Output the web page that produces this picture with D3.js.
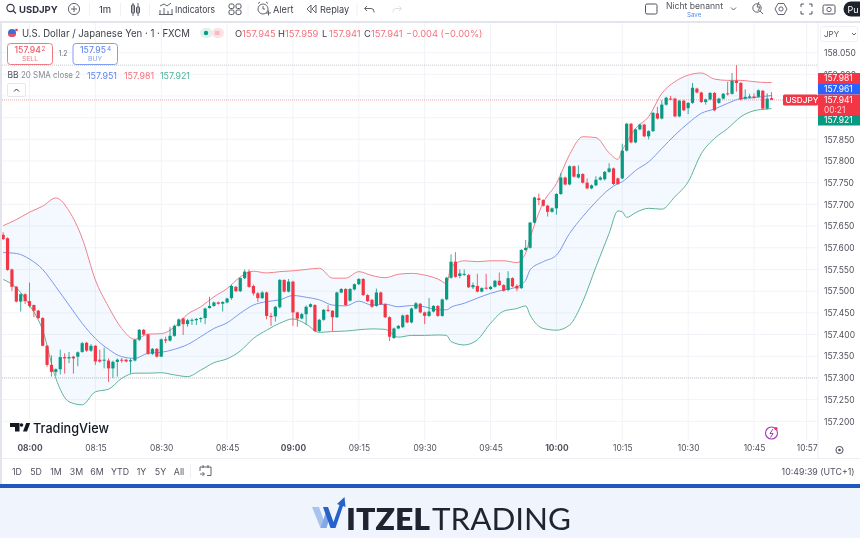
<!DOCTYPE html>
<html>
<head>
<meta charset="utf-8">
<script src="https://cdn.jsdelivr.net/npm/d3@7"></script>
<style>
  html, body { margin: 0; padding: 0; background: #fff; }
  svg { display: block; filter: blur(0.3px); }
  text { font-family: Inter, "Noto Sans", sans-serif; }
</style>
</head>
<body>
<script>
// minutes relative to 08:00, first candle is 07:54. ten candles per row
const firstMinute = -6;

const opens = [
157.630,157.622,157.550,157.510,157.476,157.493,157.477,157.468,157.455,157.438,
157.374,157.330,157.314,157.320,157.348,157.345,157.349,157.349,157.360,157.381,
157.363,157.374,157.342,157.340,157.340,157.322,157.337,157.342,157.342,157.338,
157.340,157.388,157.411,157.400,157.356,157.367,157.349,157.389,157.386,157.397,
157.420,157.437,157.424,157.432,157.433,157.436,157.438,157.461,157.466,157.474,
157.471,157.474,157.484,157.510,157.500,157.530,157.545,157.512,157.495,157.484,
157.497,157.443,157.442,157.463,157.526,157.499,157.522,157.451,157.437,157.447,
157.464,157.468,157.408,157.434,157.457,157.455,157.440,157.497,157.505,157.478,
157.504,157.516,157.528,157.491,157.480,157.466,157.497,157.470,157.440,157.392,
157.414,157.417,157.445,157.428,157.460,157.471,157.451,157.443,157.453,157.466,
157.443,157.481,157.531,157.568,157.535,157.538,157.537,157.509,157.512,157.499,
157.508,157.505,157.510,157.524,157.514,157.503,157.530,157.512,157.507,157.595,
157.600,157.658,157.714,157.710,157.697,157.683,157.691,157.724,157.762,157.746,
157.788,157.762,157.770,157.750,157.737,157.744,157.757,157.758,157.775,157.783,
157.760,157.760,157.824,157.886,157.843,157.873,157.884,157.857,157.869,157.910,
157.898,157.930,157.944,157.944,157.903,157.939,157.922,157.934,157.967,157.958,
157.936,157.942,157.957,157.934,157.944,157.956,157.955,157.985,157.980,157.944,
157.946,157.949,157.948,157.962,157.921,157.945];
const highs = [
157.636,157.624,157.552,157.512,157.495,157.495,157.520,157.469,157.457,157.440,
157.376,157.352,157.322,157.365,157.357,157.360,157.351,157.361,157.383,157.383,
157.378,157.376,157.365,157.370,157.345,157.340,157.345,157.346,157.344,157.345,
157.390,157.413,157.413,157.402,157.369,157.369,157.391,157.395,157.417,157.423,
157.437,157.439,157.436,157.437,157.438,157.440,157.462,157.487,157.476,157.476,
157.477,157.485,157.515,157.512,157.532,157.550,157.550,157.515,157.498,157.500,
157.499,157.450,157.466,157.528,157.527,157.528,157.524,157.453,157.450,157.467,
157.472,157.470,157.436,157.459,157.468,157.456,157.499,157.507,157.507,157.507,
157.518,157.530,157.530,157.493,157.482,157.506,157.499,157.472,157.442,157.416,
157.422,157.446,157.447,157.462,157.475,157.473,157.453,157.484,157.468,157.468,
157.483,157.533,157.585,157.590,157.550,157.550,157.540,157.520,157.540,157.509,
157.540,157.512,157.526,157.543,157.516,157.546,157.532,157.516,157.597,157.618,
157.660,157.718,157.725,157.712,157.699,157.693,157.726,157.772,157.764,157.790,
157.790,157.790,157.772,157.760,157.746,157.765,157.765,157.777,157.795,157.785,
157.762,157.840,157.888,157.888,157.875,157.886,157.886,157.871,157.913,157.925,
157.940,157.948,157.950,157.946,157.941,157.941,157.936,157.980,157.969,157.960,
157.944,157.959,157.959,157.946,157.957,157.983,158.003,158.021,157.982,157.965,
157.955,157.956,157.965,157.964,157.956,157.959];
const lows = [
157.618,157.547,157.500,157.474,157.453,157.470,157.462,157.440,157.436,157.373,
157.326,157.303,157.305,157.308,157.310,157.334,157.310,157.327,157.358,157.360,
157.360,157.330,157.335,157.322,157.291,157.300,157.303,157.335,157.336,157.310,
157.338,157.385,157.398,157.353,157.353,157.347,157.348,157.380,157.384,157.395,
157.418,157.399,157.418,157.422,157.422,157.428,157.424,157.460,157.464,157.469,
157.453,157.472,157.480,157.498,157.498,157.528,157.508,157.490,157.475,157.482,
157.435,157.420,157.430,157.460,157.497,157.497,157.420,157.418,157.435,157.423,
157.462,157.406,157.406,157.432,157.452,157.408,157.438,157.495,157.466,157.476,
157.502,157.514,157.489,157.475,157.462,157.464,157.468,157.438,157.385,157.390,
157.412,157.415,157.426,157.426,157.458,157.449,157.424,157.441,157.451,157.441,
157.441,157.479,157.529,157.531,157.530,157.535,157.507,157.505,157.497,157.497,
157.504,157.503,157.508,157.512,157.499,157.500,157.509,157.500,157.505,157.593,
157.598,157.656,157.698,157.695,157.672,157.681,157.676,157.722,157.744,157.744,
157.762,157.760,157.748,157.735,157.735,157.742,157.755,157.755,157.773,157.745,
157.745,157.758,157.822,157.841,157.841,157.871,157.855,157.850,157.867,157.896,
157.896,157.928,157.940,157.901,157.901,157.915,157.908,157.932,157.956,157.934,
157.930,157.940,157.915,157.932,157.942,157.951,157.953,157.960,157.940,157.942,
157.944,157.944,157.946,157.919,157.919,157.941];
const closes = [
157.620,157.549,157.510,157.476,157.493,157.477,157.466,157.455,157.438,157.374,
157.330,157.314,157.320,157.348,157.345,157.348,157.345,157.359,157.380,157.363,
157.374,157.338,157.338,157.342,157.322,157.337,157.342,157.340,157.338,157.341,
157.388,157.411,157.400,157.356,157.367,157.349,157.389,157.386,157.397,157.420,
157.435,157.424,157.433,157.434,157.436,157.438,157.460,157.466,157.474,157.471,
157.475,157.483,157.512,157.500,157.530,157.545,157.510,157.495,157.484,157.497,
157.443,157.442,157.464,157.526,157.499,157.522,157.451,157.437,157.447,157.464,
157.470,157.408,157.434,157.457,157.455,157.440,157.497,157.505,157.468,157.505,
157.516,157.528,157.491,157.477,157.464,157.497,157.470,157.440,157.395,157.414,
157.420,157.444,157.428,157.460,157.472,157.451,157.443,157.453,157.466,157.443,
157.481,157.531,157.568,157.533,157.541,157.540,157.509,157.514,157.499,157.507,
157.506,157.510,157.524,157.514,157.501,157.530,157.511,157.506,157.595,157.600,
157.658,157.716,157.710,157.697,157.683,157.691,157.724,157.762,157.746,157.788,
157.764,157.770,157.750,157.737,157.744,157.757,157.762,157.775,157.783,157.747,
157.747,157.824,157.886,157.843,157.873,157.884,157.857,157.869,157.911,157.898,
157.930,157.946,157.942,157.903,157.939,157.917,157.934,157.969,157.958,157.936,
157.942,157.957,157.917,157.944,157.955,157.955,157.985,157.980,157.942,157.948,
157.949,157.946,157.963,157.921,157.944,157.941];

// bollinger bands at these minutes
const bbMinutes = [-6,-3,0,3,6,9,12,15,18,21,24,27,30,33,36,39,42,45,48,51,54,57,60,63,66,69,72,75,78,81,84,87,90,93,95,96,99,102,105,108,111,113,114,117,120,123,126,129,132,134,135,136,138,141,144,147,150,153,156,159,162,165,168,169];
const bbUpper = [157.651,157.665,157.682,157.696,157.715,157.685,157.622,157.526,157.464,157.414,157.389,157.401,157.402,157.417,157.447,157.464,157.487,157.506,157.533,157.546,157.542,157.545,157.547,157.550,157.553,157.530,157.530,157.545,157.536,157.531,157.539,157.541,157.537,157.528,157.518,157.556,157.570,157.568,157.570,157.570,157.566,157.588,157.622,157.704,157.748,157.815,157.856,157.854,157.819,157.804,157.825,157.843,157.875,157.902,157.956,157.983,157.998,158.003,157.989,157.986,157.986,157.983,157.981,157.981];
const bbMiddle = [157.589,157.587,157.574,157.550,157.510,157.468,157.426,157.391,157.366,157.349,157.345,157.357,157.359,157.366,157.377,157.395,157.414,157.427,157.449,157.468,157.476,157.480,157.490,157.486,157.480,157.468,157.466,157.477,157.468,157.470,157.464,157.467,157.464,157.457,157.457,157.463,157.472,157.484,157.495,157.503,157.510,157.525,157.549,157.568,157.583,157.633,157.672,157.706,157.735,157.748,157.752,157.760,157.778,157.798,157.829,157.860,157.887,157.910,157.920,157.933,157.944,157.946,157.950,157.951];
const bbLower = [157.527,157.508,157.468,157.410,157.299,157.245,157.238,157.268,157.274,157.299,157.311,157.311,157.312,157.307,157.303,157.318,157.335,157.344,157.362,157.391,157.410,157.426,157.436,157.424,157.405,157.407,157.408,157.411,157.413,157.412,157.394,157.398,157.398,157.399,157.398,157.384,157.376,157.388,157.426,157.454,157.460,157.466,157.445,157.414,157.410,157.422,157.476,157.556,157.633,157.685,157.683,157.670,157.681,157.691,157.689,157.718,157.752,157.817,157.852,157.875,157.902,157.916,157.920,157.921];

// axes
const gridPrices = d3.range(0, 18).map(i => +(157.2 + i * 0.05).toFixed(2));
const hiddenPrices = [157.9, 157.95]; // sit under the badges
const timeTicks = [0,15,30,45,60,75,90,105,120,135,150,165,177];
const boldTimes = [0,60,120];
const rangeButtons = ["1D","5D","1M","3M","6M","YTD","1Y","5Y","All"];
const rangeCenters = [17,36,56,76.5,97,120,141.5,160.5,179];

// horizontal levels on the pane
const dottedLevels = [158.021, 157.3];
const lastPrice = 157.941;

const RED = "#f23645", GREEN = "#089981", BLUE = "#2962ff", GRID = "#f1f3f8", INK = "#2e3240";

const width = 860, height = 538;
const svg = d3.select("body").append("svg").attr("width", width).attr("height", height);

const x = d3.scaleLinear().domain([0, 165]).range([29.5, 754]);
const y = d3.scaleLinear().domain([157.2, 158.05]).range([421.3, 52.6]);

function label(px, py, str, o = {}) {
    return svg.append("text").attr("x", px).attr("y", py).text(str)
        .attr("font-size", o.size || 9.5)
        .attr("font-weight", o.weight || 400)
        .attr("fill", o.fill || INK)
        .attr("text-anchor", o.anchor || "start")
        .attr("dominant-baseline", "central")
        .attr("textLength", o.len || null)
        .attr("lengthAdjust", o.len ? "spacingAndGlyphs" : null);
}
function box(px, py, w, h, o = {}) {
    return svg.append("rect").attr("x", px).attr("y", py).attr("width", w).attr("height", h)
        .attr("rx", o.rx || 0).attr("fill", o.fill || "none")
        .attr("stroke", o.stroke || "none").attr("stroke-width", o.sw || 1);
}
function stroke(d, col = "#4a4e5a", sw = 1) {
    return svg.append("path").attr("d", d).attr("fill", "none").attr("stroke", col).attr("stroke-width", sw);
}
function ring(cx, cy, r, col = "#4a4e5a", sw = 1) {
    return svg.append("circle").attr("cx", cx).attr("cy", cy).attr("r", r).attr("fill", "none").attr("stroke", col).attr("stroke-width", sw);
}

// ---- pane: grid
svg.append("g").attr("stroke", GRID).selectAll("line").data(gridPrices).join("line")
    .attr("x1", 2).attr("x2", 818).attr("y1", d => y(d)).attr("y2", d => y(d));
svg.append("g").attr("stroke", GRID).selectAll("line").data(timeTicks).join("line")
    .attr("x1", d => x(d)).attr("x2", d => x(d)).attr("y1", 23).attr("y2", 440);

// dotted levels
svg.append("g").selectAll("line").data(dottedLevels).join("line")
    .attr("x1", 2).attr("x2", 818).attr("y1", d => y(d)).attr("y2", d => y(d))
    .attr("stroke", "#c6c8ce").attr("stroke-dasharray", "1 1");
svg.append("line").attr("x1", 2).attr("x2", 818).attr("y1", y(lastPrice)).attr("y2", y(lastPrice))
    .attr("stroke", "#f7a0a6").attr("stroke-dasharray", "1 1");

// ---- bollinger bands
const bb = bbMinutes.map((m, i) => ({ m, up: bbUpper[i], mid: bbMiddle[i], low: bbLower[i] }));
svg.append("path").datum(bb).attr("fill", "#2196f3").attr("fill-opacity", 0.055)
    .attr("d", d3.area().x(d => x(d.m)).y0(d => y(d.low)).y1(d => y(d.up)).curve(d3.curveMonotoneX));
[["up", "#f2808a"], ["mid", "#7c97ee"], ["low", "#5fb396"]].forEach(([k, col]) => {
    svg.append("path").datum(bb).attr("fill", "none").attr("stroke", col).attr("stroke-width", 1)
        .attr("d", d3.line().x(d => x(d.m)).y(d => y(d[k])).curve(d3.curveMonotoneX));
});

// ---- candles
const candles = opens.map((o, i) => ({ m: firstMinute + i, o, h: highs[i], l: lows[i], c: closes[i] }));
const candleColor = d => d.c >= d.o ? GREEN : RED;
const cg = svg.append("g").selectAll("g").data(candles).join("g");
cg.append("line").attr("x1", d => x(d.m)).attr("x2", d => x(d.m))
    .attr("y1", d => y(d.h)).attr("y2", d => y(d.l))
    .attr("stroke", candleColor).attr("stroke-width", 0.8);
cg.append("rect").attr("x", d => x(d.m) - 1.6).attr("width", 3.2)
    .attr("y", d => y(Math.max(d.o, d.c)))
    .attr("height", d => Math.max(1, Math.abs(y(d.o) - y(d.c))))
    .attr("fill", candleColor);

// ---- price axis
const yAxis = svg.append("g").attr("transform", "translate(824,0)")
    .call(d3.axisRight(y).tickValues(gridPrices.filter(p => !hiddenPrices.includes(p)))
        .tickFormat(d3.format(".3f")).tickSize(0).tickPadding(0));
yAxis.select(".domain").remove();
yAxis.selectAll("text").attr("fill", "#50535e").attr("font-size", 8.5).style("font-family", "Inter");
svg.append("line").attr("x1", 818).attr("x2", 818).attr("y1", 23).attr("y2", 458).attr("stroke", "#eceef3");

box(820.5, 26.5, 37, 15, { rx: 2, fill: "#fff", stroke: "#eff0f4" });
label(824, 34, "JPY", { size: 8, fill: "#50535e" });
stroke("M852 33 l2 2 l2 -2", "#50535e", 0.9);

// price badges
const badges = [
    { v: 157.981, fill: RED, top: 73, h: 11 },
    { v: 157.961, fill: BLUE, top: 84, h: 10.5 },
    { v: 157.941, fill: RED, top: 94.5, h: 20.5 },
    { v: 157.921, fill: GREEN, top: 115, h: 10.5 }
];
badges.forEach(b => {
    box(818, b.top, 42, b.h, { fill: b.fill });
    label(824, b.top + 5.2, b.v.toFixed(3), { size: 8.5, fill: "#fff" });
});
label(824, 109.5, "00:21", { size: 8.3, fill: "#ffd6d9" });
box(783, 94.5, 35, 11, { rx: 1.5, fill: RED });
label(785.5, 100, "USDJPY", { size: 8.2, fill: "#fff", weight: 500 });

// ---- time axis
const xAxis = svg.append("g").attr("transform", "translate(0,445)")
    .call(d3.axisBottom(x).tickValues(timeTicks).tickSize(0).tickPadding(0)
        .tickFormat(m => {
            const t = 480 + m;
            return String(Math.floor(t / 60)).padStart(2, "0") + ":" + String(t % 60).padStart(2, "0");
        }));
xAxis.select(".domain").remove();
xAxis.selectAll("text").attr("fill", "#50535e").attr("font-size", 8.4).style("font-family", "Inter")
    .attr("font-weight", m => boldTimes.includes(m) ? 700 : 400);
svg.append("line").attr("x1", 2).attr("x2", 860).attr("y1", 458.5).attr("y2", 458.5).attr("stroke", "#eceef3");
ring(839.5, 450, 3.6, "#4a4e5a", 1);
svg.append("circle").attr("cx", 839.5).attr("cy", 450).attr("r", 1.3).attr("fill", "#4a4e5a");

// signal icon
ring(771.5, 433, 6, "#a23ab5", 1.1);
stroke("M773 429 l-3 4.5 h3 l-2.5 4", "#a23ab5", 1);
svg.append("circle").attr("cx", 776).attr("cy", 428.5).attr("r", 1.6).attr("fill", RED);

// ---- frame
box(0, 21, 860, 2, { fill: "#e3e5ec" });
box(0, 21, 2, 464, { fill: "#e3e5ec" });

// ---- top toolbar
ring(10.5, 8, 3.6, "#2e3240", 1.1);
stroke("M13 10.5 l3 3", "#2e3240", 1.1);
label(19, 9, "USDJPY", { size: 9.5, weight: 700, fill: "#2e3240" });
ring(74, 9, 5.6, "#50535e", 0.9);
stroke("M74 6 v6 M71 9 h6", "#50535e", 0.9);
label(99, 9.5, "1m", { size: 9.5 });
stroke("M133 3 v13 M138 3 v13", "#50535e", 0.9);
box(131.5, 5, 3, 8, { stroke: "#50535e", rx: 0.5 });
box(136.5, 7, 3, 6, { stroke: "#50535e", rx: 0.5 });
stroke("M160 14 v-4 M164 14 v-6 M168 14 v-3 M172 14 v-5 M160 6 l4 -2 l3 2 l4 -3", "#50535e", 0.9);
stroke("M159 14.5 h14", "#50535e", 0.9);
label(175, 9.2, "Indicators", { size: 9.2, fill: "#3c3f4a", len: 40 });
[[229, 4], [236, 4], [229, 10], [236, 10]].forEach(p => box(p[0], p[1], 5, 4.5, { stroke: "#50535e", rx: 1.5 }));
ring(263, 9, 5, "#50535e", 0.9);
stroke("M263 6 v3 h2 M266 13 h5 M268.5 10.5 v5 M258 3.5 l2 -1.5 M268 3.5 l-2 -1.5", "#50535e", 0.9);
label(273, 9.2, "Alert", { size: 9.2, fill: "#3c3f4a" });
stroke("M311 5 l-4 4 l4 4 z M316 5 l-4 4 l4 4 z", "#50535e", 0.9);
label(320, 9.2, "Replay", { size: 9.2, fill: "#3c3f4a" });
stroke("M367 6 l-2.5 2.5 l2.5 2.5 M365 8.5 h6 a3 3 0 0 1 3 3 v1", "#50535e", 0.9);
stroke("M399 6 l2.5 2.5 l-2.5 2.5 M401 8.5 h-5 a3 3 0 0 0 -3 3 v1", "#d9dbe1", 0.9);
[89.5, 120.5, 149.5, 248, 357].forEach(p => svg.append("line").attr("x1", p).attr("x2", p).attr("y1", 3).attr("y2", 16).attr("stroke", "#f0f1f4"));

box(645.5, 4, 11.5, 10, { rx: 1.5, stroke: "#50535e" });
label(666, 6, "Nicht benannt", { size: 8.6, fill: "#50535e", len: 57 });
label(687, 14.2, "Save", { size: 6.2, fill: "#5b8bf0" });
stroke("M731 7.5 l2.5 2.5 l2.5 -2.5", "#50535e", 0.9);
ring(757, 8, 4.2, "#50535e", 0.9);
stroke("M760 11 l3 3 M759 2 l-2 5 h3 l-2 4", "#50535e", 0.9);
svg.append("path").attr("d", "M775 9 l3 -5.5 h6 l3 5.5 l-3 5.5 h-6 z").attr("fill", "none").attr("stroke", "#50535e").attr("stroke-width", 0.9);
ring(781, 9, 2.1, "#50535e", 0.9);
stroke("M801 7 v-3 h3 M809 4 h3 v3 M812 11 v3 h-3 M804 14 h-3 v-3", "#50535e", 1);
box(823, 5, 12, 9, { rx: 1.5, stroke: "#50535e" });
ring(829, 9.5, 2.2, "#50535e", 0.9);
svg.append("path").attr("d", "M860 1.5 H851 a7.5 7.5 0 0 0 0 15 H860 Z").attr("fill", "#1e222d");
label(847.5, 9, "Pu", { size: 9, fill: "#fff" });

// ---- legend
svg.append("circle").attr("cx", 12).attr("cy", 33).attr("r", 4).attr("fill", "#3d6fd6");
svg.append("path").attr("d", "M8 34 a4 3 0 0 0 8 0 z").attr("fill", "#e8546a");
svg.append("circle").attr("cx", 16.5).attr("cy", 30).attr("r", 1.3).attr("fill", RED);
label(22, 33.3, "U.S. Dollar / Japanese Yen · 1 · FXCM", { size: 10.6, fill: "#3c3f4a", len: 168 });
box(200, 28, 12.5, 10, { rx: 5, fill: "#dff3ee" });
box(212, 28, 12, 10, { rx: 5, fill: "#fde2e5" });
svg.append("circle").attr("cx", 206).attr("cy", 33).attr("r", 2.2).attr("fill", GREEN);
stroke("M215 32 h4.5 M215 34 h4.5", "#f28792", 0.9);

const ohlc = [["O", 157.945, 235], ["H", 157.959, 278], ["L", 157.941, 322], ["C", 157.941, 364]];
ohlc.forEach(([k, v, px]) => {
    label(px, 33.3, k, { size: 9.3, fill: "#3c3f4a" });
    label(px + 7, 33.3, v.toFixed(3), { size: 9.3, fill: "#f4717c" });
});
label(406, 33.3, "\u22120.004 (\u22120.00%)", { size: 9.3, fill: "#f4717c" });

box(7.5, 43.5, 45, 21, { rx: 3, fill: "#fff", stroke: "#f27983" });
label(14.5, 50, "157.94", { size: 8.6, fill: "#ee5763", weight: 500 });
label(41.5, 49, "2", { size: 6.5, fill: "#ee5763" });
label(30, 58.8, "SELL", { size: 6.8, fill: "#f27983", anchor: "middle" });
label(63, 53.8, "1.2", { size: 7, fill: "#6a6d78", anchor: "middle" });
box(73, 43.5, 44.5, 21, { rx: 3, fill: "#fff", stroke: "#7f9ef5" });
label(80, 50, "157.95", { size: 8.6, fill: "#5f85ef", weight: 500 });
label(107, 49, "4", { size: 6.5, fill: "#5f85ef" });
label(95, 58.8, "BUY", { size: 6.8, fill: "#7f9ef5", anchor: "middle" });

label(7.5, 75, "BB", { size: 8.5, fill: "#50535e" });
label(21, 75, "20 SMA close 2", { size: 8.5, fill: "#868993", len: 59 });
label(87, 75, "157.951", { size: 8.9, fill: "#5f85ef" });
label(124, 75, "157.981", { size: 8.9, fill: "#f4717c" });
label(160, 75, "157.921", { size: 8.9, fill: "#4fb29a" });
box(7.5, 83.5, 18, 13, { rx: 1.5, fill: "#fff", stroke: "#e6e7ec" });
stroke("M14 91.5 l2.5 -2.5 l2.5 2.5", "#2e3240", 1);

// ---- watermark
svg.append("path").attr("d", "M10 423 h9.5 v8.5 h-4.5 v-4.5 h-5 z").attr("fill", "#131722");
svg.append("circle").attr("cx", 21.5).attr("cy", 425).attr("r", 1.8).attr("fill", "#131722");
svg.append("path").attr("d", "M23 431.5 l3.2 -8.5 h4 l-3.2 8.5 z").attr("fill", "#131722");
label(33, 427.5, "TradingView", { size: 13, weight: 500, fill: "#131722", len: 76 });

// ---- range bar
rangeButtons.forEach((t, i) => label(rangeCenters[i], 471.3, t, { size: 8.8, fill: "#50535e", anchor: "middle" }));
svg.append("line").attr("x1", 190.5).attr("x2", 190.5).attr("y1", 464).attr("y2", 478).attr("stroke", "#eceef3");
stroke("M200 467 h11 v8.5 h-4 M200 467 v4 M203 465 v3 M208 465 v3 M200 474 h4 M202.5 472 l2 2 l-2 2", "#50535e", 0.9);
label(854.5, 471.7, "10:49:39 (UTC+1)", { size: 8.8, fill: "#50535e", anchor: "end" });

// ---- footer
box(0, 488, 860, 50, { fill: "#f0f4fc" });
box(0, 484, 860, 4, { fill: "#2257bd" });
svg.append("path").attr("d", "M312 507 h7 l7.5 21 h-6 z").attr("fill", "#aac3ee");
svg.append("path").attr("d", "M320.5 528 l6.5 -19 l3.5 6 l-4 13 z").attr("fill", "#86a8e6");
svg.append("path").attr("d", "M328 507 l5.5 15 l6 -17 l-2.5 -1 l7.5 -7 l1 10 l-2.5 -1 l-7.5 22 h-5 l-7.5 -21 z").attr("fill", "#2562c9");
label(346, 518, "ITZEL", { size: 30.5, weight: 800, fill: "#1e2530", len: 84 }).style("font-family", "Lato");
label(432, 518, "TRADING", { size: 30.5, weight: 400, fill: "#1e2530", len: 139 }).style("font-family", "Lato");
</script>
</body>
</html>
